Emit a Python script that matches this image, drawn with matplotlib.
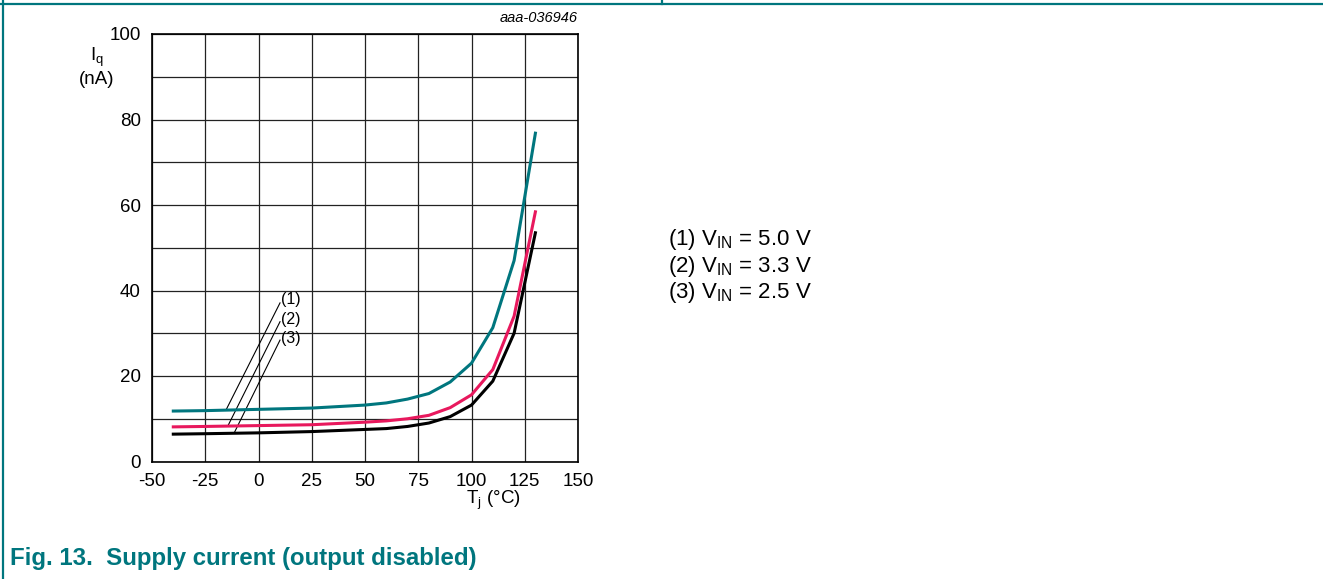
import matplotlib.pyplot as plt
from matplotlib.lines import Line2D

# data
temp = [-40, -25, 0, 25, 50, 60, 70, 80, 90, 100, 110, 120, 130]
iq_5v0 = [11.8, 11.9, 12.2, 12.5, 13.2, 13.7, 14.6, 15.9, 18.6, 23.0, 31.3, 47.0, 76.8]
iq_3v3 = [8.1, 8.2, 8.4, 8.6, 9.2, 9.5, 10.0, 10.8, 12.6, 15.6, 21.5, 34.0, 58.4]
iq_2v5 = [6.4, 6.5, 6.7, 7.0, 7.5, 7.7, 8.2, 9.0, 10.5, 13.2, 18.8, 30.0, 53.5]

curve_labels = ["(1)", "(2)", "(3)"]
legend_lines = [r"(1) V$_{\mathregular{IN}}$ = 5.0 V",
                r"(2) V$_{\mathregular{IN}}$ = 3.3 V",
                r"(3) V$_{\mathregular{IN}}$ = 2.5 V"]

# leader lines: (label end) -> (curve end), in data units
leaders = [((10.1, 37.1), (-15.3, 12.0)),
           ((10.1, 32.7), (-14.2, 8.5)),
           ((10.1, 28.4), (-11.4, 6.7))]
label_y = [37.8, 33.1, 28.7]

TEAL = "#00767e"
PINK = "#e8185d"

plt.rcParams['font.family'] = ['Liberation Sans', 'DejaVu Sans']
plt.rcParams['mathtext.fontset'] = 'custom'
plt.rcParams['mathtext.rm'] = 'Liberation Sans'
plt.rcParams['axes.unicode_minus'] = False

fig = plt.figure(figsize=(13.23, 5.79), dpi=100)
ax = fig.add_axes([152 / 1323, 1 - 461.5 / 579, 426 / 1323, 427.5 / 579])

# grid
for x in range(-50, 151, 25):
    ax.axvline(x, color="#222222", lw=0.9, zorder=1)
for y in range(0, 101, 10):
    ax.axhline(y, color="#222222", lw=0.9, zorder=1)

ax.plot(temp, iq_2v5, color="black", lw=2.2, zorder=3)
ax.plot(temp, iq_3v3, color=PINK, lw=2.2, zorder=3)
ax.plot(temp, iq_5v0, color=TEAL, lw=2.2, zorder=3)

for (p0, p1), lab, ly in zip(leaders, curve_labels, label_y):
    ax.plot([p0[0], p1[0]], [p0[1], p1[1]], color="black", lw=0.8, zorder=2)
    ax.text(p0[0] + 0.6, ly, lab, fontsize=11.5, va="center", ha="left")

ax.set_xlim(-50, 150)
ax.set_ylim(0, 100)
ax.set_xticks(range(-50, 151, 25))
ax.set_yticks(range(0, 101, 20))
ax.tick_params(length=0, labelsize=13.5)
ax.tick_params(axis="x", pad=8)
ax.tick_params(axis="y", pad=8)
for s in ax.spines.values():
    s.set_linewidth(1.2)

ax.text(1.0, 1.02, "aaa-036946", transform=ax.transAxes, ha="right",
        va="bottom", fontsize=10.5, style="italic")

# axis labels
fig.text(97 / 1323, 1 - 57 / 579, r"I$_{\mathregular{q}}$", fontsize=13.5,
         ha="center", va="center")
fig.text(97 / 1323, 1 - 80 / 579, "(nA)", fontsize=13.5, ha="center", va="center")
fig.text(493 / 1323, 1 - 500 / 579, r"T$_{\mathregular{j}}$ (°C)", fontsize=13.5,
         ha="center", va="center")

# condition legend
for i, t in enumerate(legend_lines):
    fig.text(668 / 1323, 1 - (240 + 26.5 * i) / 579, t, fontsize=16,
             ha="left", va="center")

# caption
fig.text(10 / 1323, 1 - 559 / 579, "Fig. 13.  Supply current (output disabled)",
         fontsize=17.3, fontweight="bold", color=TEAL, ha="left", va="center")

# frame lines
fig.add_artist(Line2D([0, 1], [1 - 4 / 579] * 2, color=TEAL, lw=1.6,
                      transform=fig.transFigure))
fig.add_artist(Line2D([2.5 / 1323] * 2, [0, 1], color=TEAL, lw=1.6,
                      transform=fig.transFigure))
fig.add_artist(Line2D([662 / 1323] * 2, [1 - 4 / 579, 1], color=TEAL, lw=1.6,
                      transform=fig.transFigure))

fig.savefig("out.png", dpi=100)
